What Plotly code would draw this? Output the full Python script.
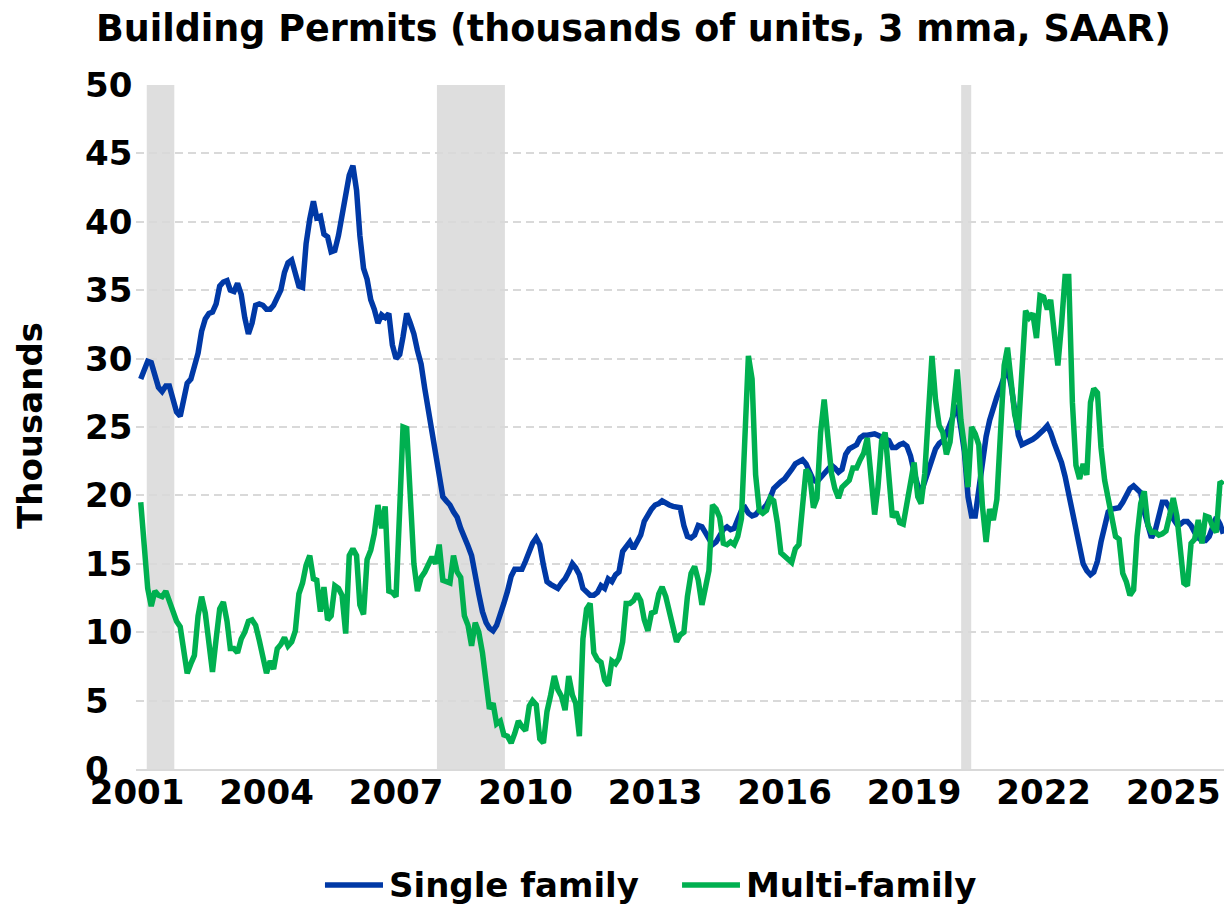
import pandas as pd
import plotly.graph_objects as go

# ---------------- data (monthly, Feb 2001 onward) ----------------
start_month = "2001-02-01"

single_family = [
    28.5, 29.1, 29.8, 29.7, 28.9, 27.9, 27.6, 28.0, 28.0, 26.9,
    26.1, 25.8, 27.0, 28.2, 28.5, 29.5, 30.4, 32.0, 32.9, 33.3,
    33.4, 34.0, 35.3, 35.6, 35.7, 35.0, 34.9, 35.5, 34.7, 33.0,
    31.8, 32.6, 33.9, 34.0, 33.9, 33.6, 33.6, 33.9, 34.5, 35.0,
    36.3, 37.0, 37.2, 36.2, 35.3, 35.2, 38.4, 40.2, 41.5, 40.3,
    40.4, 39.1, 38.9, 37.8, 37.9, 39.0, 40.6, 41.8, 43.4, 44.1,
    42.3, 39.0, 36.6, 35.8, 34.3, 33.6, 32.6, 33.2, 33.0, 33.3,
    31.0, 30.0, 30.3, 31.6, 33.3, 32.6, 31.8, 30.6, 29.6, 27.8,
    26.2, 24.7, 23.1, 21.1, 19.9, 19.6, 19.3, 18.8, 18.4, 17.6,
    16.8, 16.3, 15.6, 13.9, 12.8, 11.5, 10.7, 10.3, 10.1, 10.5,
    11.2, 12.1, 13.0, 14.1, 14.6, 14.6, 14.6, 15.2, 15.9, 16.5,
    16.9, 16.4, 14.9, 13.7, 13.5, 13.4, 13.2, 13.6, 13.9, 14.4,
    15.0, 14.7, 14.2, 13.2, 12.9, 12.7, 12.7, 12.9, 13.4, 13.2,
    13.9, 13.7, 14.2, 14.4, 15.9, 16.3, 16.6, 16.1, 16.6, 17.1,
    18.1, 18.6, 19.0, 19.3, 19.4, 19.6, 19.4, 19.3, 19.2, 19.2,
    19.1, 17.8, 17.0, 16.9, 17.1, 17.8, 17.7, 17.3, 16.8, 16.4,
    16.6, 17.0, 17.5, 17.7, 17.5, 17.6, 18.2, 18.9, 19.1, 18.7,
    18.5, 18.6, 18.9, 19.0, 19.3, 19.8, 20.5, 20.8, 21.0, 21.2,
    21.5, 21.9, 22.3, 22.5, 22.6, 22.3, 21.8, 21.1, 21.0, 21.3,
    21.6, 21.9, 22.2, 22.0, 21.7, 21.9, 23.0, 23.4, 23.6, 23.7,
    24.2, 24.4, 24.4, 24.5, 24.5, 24.4, 24.3, 24.2, 24.0, 23.5,
    23.5, 23.7, 23.8, 23.6, 22.9, 21.7, 20.7, 20.2, 21.0, 22.0,
    22.8, 23.4, 23.8, 24.0, 24.5, 25.2, 26.0, 26.6, 24.9, 23.2,
    19.9, 18.5, 18.5, 20.5, 23.0, 24.3, 25.5, 26.5, 27.2, 27.9,
    28.8, 29.4, 28.0, 26.3, 24.4, 23.7, 23.8, 23.9, 24.1, 24.3,
    24.5, 24.8, 25.1, 24.6, 23.8, 23.1, 22.4, 21.4, 20.0, 18.7,
    17.4, 16.1, 15.0, 14.5, 14.2, 14.4, 15.2, 16.6, 17.8, 18.8,
    19.0, 19.0, 19.1, 19.5, 20.0, 20.5, 20.7, 20.5, 20.2, 18.8,
    17.7, 16.9, 17.4, 18.6, 19.5, 19.5, 19.1, 18.3, 17.9, 17.9,
    18.1, 18.1, 17.8, 17.3, 16.9, 16.7, 16.7, 17.0, 17.7, 18.4,
    17.9, 17.2,
]

multi_family = [
    19.5, 16.0, 13.2, 11.9, 13.0, 12.7, 12.6, 13.0, 12.2, 11.6,
    10.8, 10.4, 8.8, 7.0, 7.7, 8.3, 11.2, 12.6, 11.4, 9.2,
    7.1, 9.5, 11.7, 12.2, 10.8, 8.8, 8.8, 8.5, 9.5, 10.0,
    10.8, 10.9, 10.5, 9.4, 8.0, 7.0, 7.9, 7.3, 8.8, 9.1,
    9.6, 9.0, 9.3, 10.1, 12.8, 13.6, 14.9, 15.6, 13.9, 13.8,
    11.5, 13.3, 10.9, 11.2, 13.4, 13.2, 12.7, 9.9, 15.6, 16.1,
    15.6, 12.0, 11.3, 15.3, 16.0, 17.2, 19.3, 17.6, 19.2, 13.0,
    12.9, 12.6, 19.0, 25.0, 24.9, 19.0, 15.0, 13.0, 14.0, 14.4,
    14.9, 15.5, 15.0, 16.4, 13.8, 13.7, 13.6, 15.6, 14.4, 14.0,
    11.2, 10.5, 9.0, 10.7, 10.0, 8.5, 6.3, 4.4, 4.8, 3.3,
    3.5, 2.5, 2.4, 1.9, 2.6, 3.5, 3.1, 2.8, 4.6, 5.0,
    4.7, 2.2, 1.9, 4.2, 5.4, 6.8, 5.8, 5.3, 4.3, 6.8,
    5.4, 4.8, 2.4, 9.5, 11.7, 12.1, 8.5, 8.0, 7.8, 6.5,
    6.1, 7.9, 7.7, 8.1, 9.3, 12.1, 12.1, 12.3, 12.8, 12.3,
    10.9, 10.1, 11.4, 11.5, 12.8, 13.3, 12.6, 11.4, 10.3, 9.3,
    9.8, 10.0, 12.6, 14.3, 14.8, 13.8, 12.0, 13.1, 14.5, 19.3,
    19.0, 18.4, 16.5, 16.4, 16.6, 16.4, 17.0, 18.3, 24.5, 30.2,
    28.5, 21.5, 18.9, 18.7, 18.9, 19.8, 19.6, 18.0, 15.8, 15.6,
    15.3, 15.1, 16.1, 16.4, 19.2, 21.9, 21.5, 19.1, 19.8, 24.6,
    27.0, 24.5, 21.6, 20.5, 19.8, 20.6, 20.9, 21.1, 22.0, 22.0,
    22.6, 23.1, 24.2, 20.8, 18.6, 20.6, 24.0, 24.6, 21.6, 18.4,
    18.8, 18.0, 17.9, 19.5, 20.8, 22.4, 19.9, 19.4, 21.6, 25.5,
    30.2, 27.0, 25.1, 24.6, 23.0, 23.9, 26.4, 29.2, 25.5, 23.6,
    20.6, 25.0, 24.5, 23.7, 19.2, 16.6, 19.0, 18.2, 19.7, 24.0,
    29.5, 30.8, 28.3, 25.9, 24.8, 29.0, 33.5, 33.0, 33.3, 31.5,
    34.6, 34.5, 33.6, 34.3, 31.5, 29.5, 32.5, 36.0, 36.0, 26.8,
    22.2, 21.2, 22.3, 21.5, 26.8, 27.8, 27.5, 23.5, 21.1, 19.6,
    18.1, 17.0, 16.8, 14.3, 13.7, 12.7, 13.1, 17.0, 19.4, 20.3,
    17.8, 17.3, 17.3, 17.1, 17.2, 17.4, 18.5, 19.8, 18.5, 16.0,
    13.6, 13.4, 16.5, 16.8, 18.2, 16.5, 18.5, 18.4, 17.7, 17.3,
    21.0, 20.8,
]

recessions = [
    ("2001-03-24", "2001-11-12"),
    ("2007-12-13", "2009-07-10"),
    ("2020-02-03", "2020-04-28"),
]

y_tick_values = [0, 5, 10, 15, 20, 25, 30, 35, 40, 45, 50]
series_names = ["Single family", "Multi-family"]
series_colors = ["#0039A6", "#00B050"]
title_text = "Building Permits (thousands of units, 3 mma, SAAR)"
y_title = "Thousands"

dates = pd.date_range(start_month, periods=len(single_family), freq="MS")

# ---------------- figure ----------------
FONT = "DejaVu Sans"
TXT = 34
fig = go.Figure()
for name, vals, col in zip(series_names, [single_family, multi_family], series_colors):
    fig.add_trace(go.Scatter(
        x=dates, y=vals, mode="lines", name=name,
        line=dict(color=col, width=5.5),
        showlegend=False,
    ))

for x0, x1 in recessions:
    fig.add_shape(type="rect", xref="x", yref="paper", x0=x0, x1=x1,
                  y0=0, y1=1, fillcolor="#dedede", line=dict(width=0),
                  layer="below")

# left-aligned y tick labels
for v in y_tick_values:
    fig.add_annotation(text=str(v), xref="paper", yref="y", x=-0.0485, y=v,
                       xanchor="left", yanchor="middle", showarrow=False,
                       font=dict(family=FONT, size=TXT, color="black",
                                 weight="bold"))

# y-axis title
fig.add_annotation(
    text=y_title, xref="paper", yref="paper", x=-0.0972, y=0.503,
    xanchor="center", yanchor="middle", textangle=-90, showarrow=False,
    font=dict(family=FONT, size=TXT, color="black", weight="bold"),
)

# legend (line sample + label)
legend_pos = [(0.1732, 0.2264, 0.2301), (0.5005, 0.5536, 0.5573)]
for (lx0, lx1, tx), name, col in zip(legend_pos, series_names, series_colors):
    fig.add_shape(type="line", xref="paper", yref="paper", x0=lx0, x1=lx1,
                  y0=-0.1696, y1=-0.1696, line=dict(color=col, width=5.5))
    fig.add_annotation(text=name, xref="paper", yref="paper", x=tx,
                       y=-0.1696, xanchor="left", yanchor="middle",
                       showarrow=False,
                       font=dict(family=FONT, size=TXT, color="black",
                                 weight="bold"))

fig.update_layout(
    width=1224, height=897,
    margin=dict(l=128, r=5, t=77, b=136),
    paper_bgcolor="white", plot_bgcolor="white",
    font=dict(family=FONT, size=TXT, color="black", weight="bold"),
    title=dict(text=title_text, x=0.511, xanchor="center", y=0.977,
               yanchor="middle", yref="container",
               font=dict(family=FONT, size=36.5, color="black", weight="bold")),
    xaxis=dict(type="date", range=["2000-12-23", "2026-04-01"],
               tick0="2001-01-01", dtick="M36", tickformat="%Y",
               showgrid=False, showline=True, linecolor="#d9d9d9",
               linewidth=2, ticks="", zeroline=False, automargin=False,
               ticklabelstandoff=-8,
               tickfont=dict(family=FONT, size=TXT, color="black", weight="bold")),
    yaxis=dict(range=[0, 50], dtick=5, showgrid=True, gridcolor="#d9d9d9",
               gridwidth=1.5, griddash="8px,5px", zeroline=False,
               showline=False, ticks="", automargin=False,
               showticklabels=False),
    showlegend=False,
)

fig.write_html("out.html")
